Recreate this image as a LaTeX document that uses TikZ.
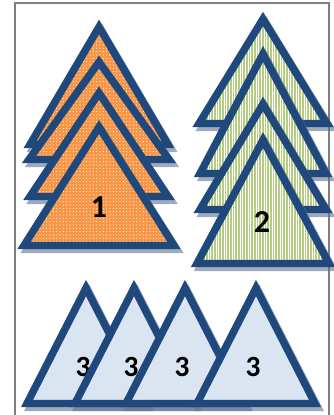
\documentclass[tikz,border=0pt]{standalone}
\usepackage{fontspec}
\setmainfont{Carlito}
\usetikzlibrary{patterns.meta}
\definecolor{edgeblue}{HTML}{1F497D}
\definecolor{dotorange}{HTML}{F79646}
\definecolor{stripegreen}{HTML}{B5CC85}
\definecolor{paleblue}{HTML}{DBE5F1}
\definecolor{shadowgray}{HTML}{5F7291}
\definecolor{framegray}{HTML}{7F7F7F}

\tikzset{
  tri/.style={draw=edgeblue,line width=5.6pt,line join=miter},
  orangetri/.style={tri,preaction={fill=dotorange},
    pattern={Dots[distance=2.5pt,radius=0.4pt]},pattern color=white},
  greentri/.style={tri,preaction={fill=stripegreen},
    pattern={Lines[angle=90,distance=2pt,line width=0.5pt]},pattern color=white},
  bluetri/.style={tri,fill=paleblue},
  shadowtri/.style={draw=shadowgray,fill=shadowgray,line width=5.6pt,line join=miter},
  num/.style={font=\bfseries\fontsize{#1}{#1}\selectfont,text=black,inner sep=0pt},
}

% style, apex x, apex y, base y, half width
\newcommand{\pyr}[5]{%
  \begin{scope}[transparency group,opacity=0.6]
    \draw[shadowtri,shift={(3,4)}] (#2,#3) -- (#2+#5,#4) -- (#2-#5,#4) -- cycle;
  \end{scope}
  \draw[#1] (#2,#3) -- (#2+#5,#4) -- (#2-#5,#4) -- cycle;
}

\begin{document}
\begin{tikzpicture}[x=0.75pt,y=-0.75pt]
  \useasboundingbox (0,0) rectangle (333,415);
  % page frame
  \draw[framegray,line width=1.2pt] (15,415) -- (15,3) -- (329,3) -- (329,415);
  % left stack
  \pyr{orangetri}{99}{27}{144.5}{69}
  \pyr{orangetri}{99}{62}{159.5}{70}
  \pyr{orangetri}{99}{93}{196.5}{69}
  \pyr{orangetri}{99}{127}{245.5}{75}
  \node[num=24] (one) at (99,207) {1};
  % right stack
  \pyr{greentri}{263}{19}{123.5}{64}
  \pyr{greentri}{263}{54}{173.5}{63}
  \pyr{greentri}{263}{104}{209.5}{63}
  \pyr{greentri}{263}{140}{263.5}{66}
  \node[num=24] (two) at (262,222) {2};
  % bottom row
  \foreach \ax/\k in {86/1,134/2,185/3,256/4}{
    \pyr{bluetri}{\ax}{288}{403.5}{59}
    \node[num=22] (three\k) at (\ax-3,367) {3};
  }
\end{tikzpicture}
\end{document}
